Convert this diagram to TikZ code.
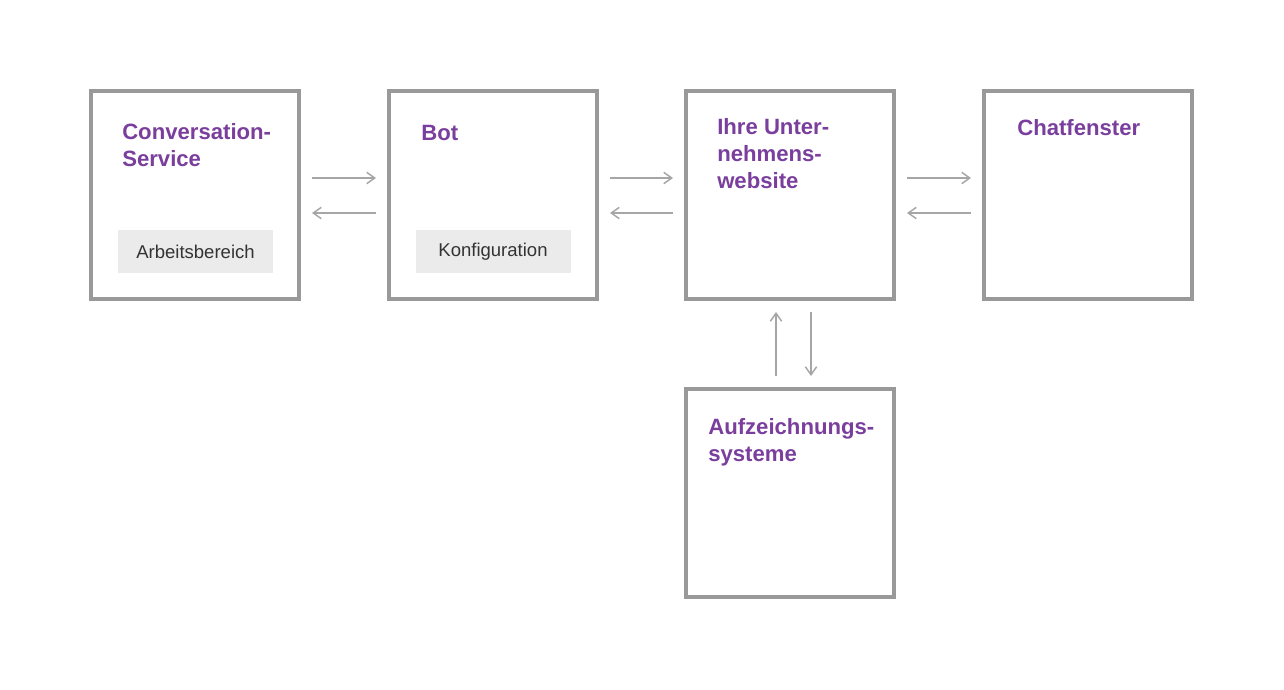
\documentclass[tikz,border=0pt]{standalone}
\usepackage{fontspec}
\setmainfont{Liberation Sans}
\usetikzlibrary{arrows.meta}
\definecolor{boxgray}{HTML}{999999}
\definecolor{arrowgray}{HTML}{A6A6A6}
\definecolor{titlepurple}{HTML}{7A3E9D}
\definecolor{labelgray}{HTML}{EBEBEB}
\definecolor{labeltext}{HTML}{333333}
\begin{document}
\begin{tikzpicture}[x=0.75pt,y=-0.75pt,
				block/.style={rectangle,draw=boxgray,line width=3pt,minimum size=156pt,inner sep=0pt},
				title/.style={anchor=north west,inner sep=0pt,align=left,text=titlepurple,
					font=\bfseries\fontsize{16.6}{20.25}\selectfont},
				label/.style={rectangle,fill=labelgray,text=labeltext,minimum width=116.25pt,
					minimum height=32.25pt,font=\fontsize{13.9}{16}\selectfont},
				flow/.style={-{Straight Barb[length=6pt,width=8.5pt]},draw=arrowgray,line width=1.1pt,
					shorten <=8.25pt,shorten >=8.25pt}]
	\useasboundingbox (0,0) rectangle (1284,689);
	\node[block] (CS) at (195,195) {};
	\node[block] (Bot) at (493,195) {};
	\node[block] (Web) at (790,195) {};
	\node[block] (Chat) at (1088,195) {};
	\node[block] (Rec) at (790,493) {};
	\node[title] (CST) at (122,123) {Conversation-\\Service};
	\node[title] (BotT) at (421,125) {Bot};
	\node[title] (WebT) at (717,118) {Ihre Unter-\\nehmens-\\website};
	\node[title] (ChatT) at (1017,119) {Chatfenster};
	\node[title] (RecT) at (708,418) {Aufzeichnungs-\\systeme};
	\node[label] (Arb) at (195.5,251.5) {Arbeitsbereich};
	\node[label] (Konf) at (493,251.5) {Konfiguration};
	\draw[flow] ([yshift=12.75pt]CS.east) -- ([yshift=12.75pt]Bot.west);
	\draw[flow] ([yshift=-13.5pt]Bot.west) -- ([yshift=-13.5pt]CS.east);
	\draw[flow] ([yshift=12.75pt]Bot.east) -- ([yshift=12.75pt]Web.west);
	\draw[flow] ([yshift=-13.5pt]Web.west) -- ([yshift=-13.5pt]Bot.east);
	\draw[flow] ([yshift=12.75pt]Web.east) -- ([yshift=12.75pt]Chat.west);
	\draw[flow] ([yshift=-13.5pt]Chat.west) -- ([yshift=-13.5pt]Web.east);
	\draw[flow] ([xshift=-10.5pt]Rec.north) -- ([xshift=-10.5pt]Web.south);
	\draw[flow] ([xshift=15.75pt]Web.south) -- ([xshift=15.75pt]Rec.north);
\end{tikzpicture}
\end{document}
